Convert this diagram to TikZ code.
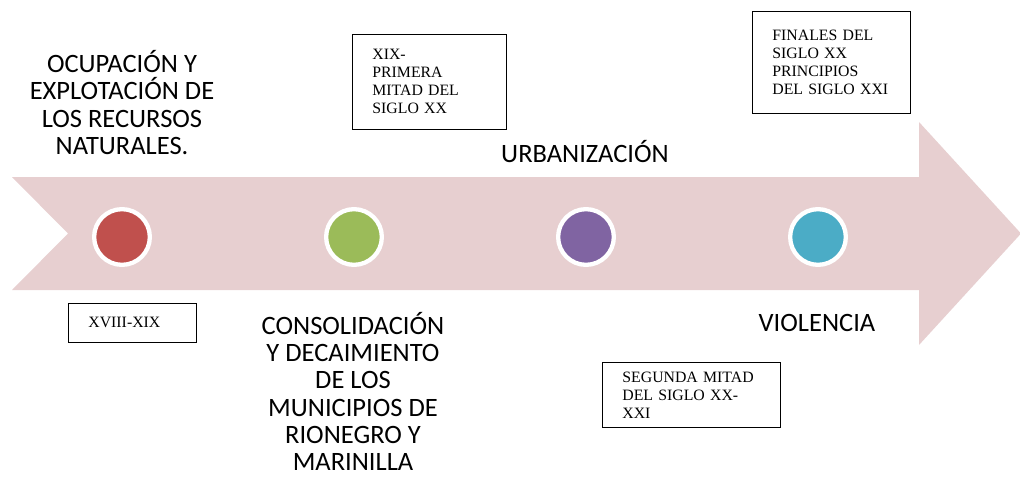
\documentclass[tikz,border=0pt]{standalone}
\usepackage{fontspec}
\setmainfont{Liberation Serif}
\newfontfamily\calib{Carlito}
\definecolor{arrowpink}{RGB}{231,207,208}
\definecolor{dotred}{RGB}{192,80,77}
\definecolor{dotgreen}{RGB}{155,187,89}
\definecolor{dotpurple}{RGB}{128,100,162}
\definecolor{dotcyan}{RGB}{75,172,198}
\tikzset{
  dot/.style={circle, draw=white, line width=4.3pt, minimum size=55.7pt, inner sep=0pt},
  biglabel/.style={align=center, inner sep=0pt, font=\calib\fontsize{26.5}{27.2}\selectfont},
  datebox/.style={draw=black, line width=0.8pt, align=left, inner xsep=20pt, inner ysep=0pt,
    font=\fontsize{15.8}{18}\selectfont, anchor=north west}
}
\begin{document}
\begin{tikzpicture}[x=1pt,y=-1pt]
\useasboundingbox (0,0) rectangle (1020,477);
\fill[arrowpink] (12,177) -- (919,177) -- (919,122) -- (1021,233.5) -- (919,345) -- (919,290) -- (12,290) -- (68,233.5) -- cycle;
\node[dot, fill=dotred] (d1) at (122,237) {};
\node[dot, fill=dotgreen] (d2) at (354,237) {};
\node[dot, fill=dotpurple] (d3) at (586,237) {};
\node[dot, fill=dotcyan] (d4) at (818,237) {};
\node[biglabel] (l1) at (122,102.5) {OCUPACIÓN Y\\EXPLOTACIÓN DE\\LOS RECURSOS\\NATURALES.};
\node[biglabel] (l2) at (353,391.5) {CONSOLIDACIÓN\\Y DECAIMIENTO\\DE LOS\\MUNICIPIOS DE\\RIONEGRO Y\\MARINILLA};
\node[biglabel] (l3) at (585,151.5) {URBANIZACIÓN};
\node[biglabel] (l4) at (817,322.5) {VIOLENCIA};
\node[datebox, text width=88pt, minimum height=39pt] (b1) at (68,303) {XVIII-XIX};
\node[datebox, text width=114pt, minimum height=95pt] (b2) at (352,34) {XIX-\\PRIMERA\\MITAD DEL\\SIGLO XX};
\node[datebox, text width=118pt, minimum height=102pt] (b3) at (752,11) {FINALES DEL\\SIGLO XX\\PRINCIPIOS\\DEL SIGLO XXI};
\node[datebox, text width=138pt, minimum height=65pt] (b4) at (602,362) {SEGUNDA MITAD\\DEL SIGLO XX-\\XXI};
\end{tikzpicture}
\end{document}
